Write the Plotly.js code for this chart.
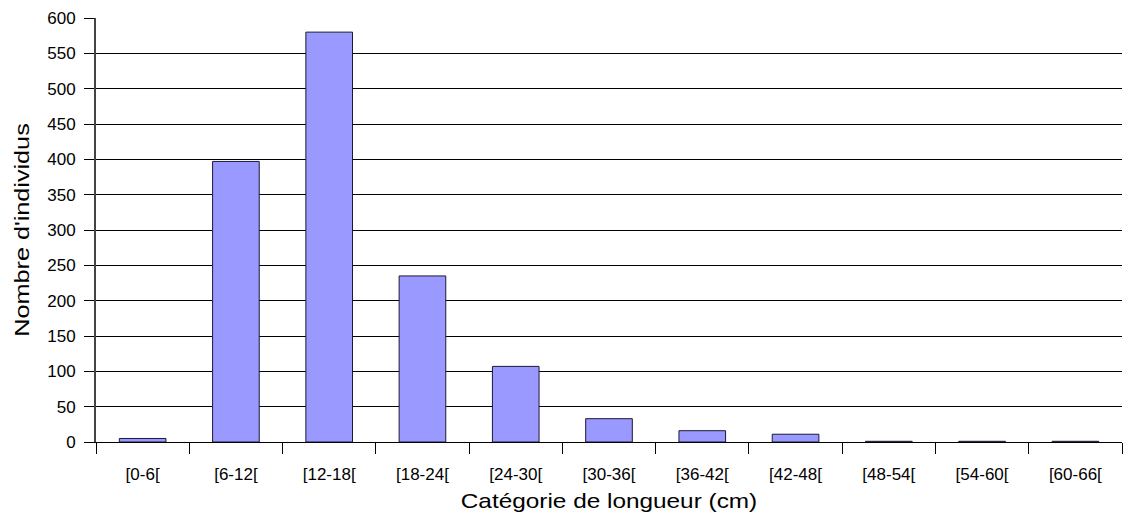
<!DOCTYPE html>
<html>
<head>
<meta charset="utf-8">
<script src="https://cdn.plot.ly/plotly-3.0.1.min.js"></script>
<style>html,body{margin:0;padding:0;background:#fff;}#chart{width:1123px;height:517px;}</style>
</head>
<body>
<div id="chart"></div>
<script>
const categories = ["[0-6[", "[6-12[", "[12-18[", "[18-24[", "[24-30[", "[30-36[", "[36-42[", "[42-48[", "[48-54[", "[54-60[", "[60-66["];
const counts = [5, 397, 580, 235, 107, 33, 16, 11, 1, 1, 1];
const yTickValues = [0, 50, 100, 150, 200, 250, 300, 350, 400, 450, 500, 550, 600];
const xTitle = "Catégorie de longueur (cm)";
const yTitle = "Nombre d'individus";

const font = "'Liberation Sans', Arial, sans-serif";

function stretchTitle(sel, factor) {
  const el = document.querySelector(sel);
  if (!el) return;
  const bb = el.getBBox();
  const cx = bb.x + bb.width / 2;
  const prev = el.getAttribute("transform") || "";
  el.setAttribute("transform", prev + " translate(" + cx + ",0) scale(" + factor + ",1) translate(" + (-cx) + ",0)");
}

Plotly.newPlot("chart", [{
  type: "bar",
  x: categories,
  y: counts,
  marker: {color: "#9999FF", line: {color: "#1a1a33", width: 1}},
  hoverinfo: "x+y"
}], {
  width: 1123, height: 517,
  margin: {l: 96, r: 1, t: 18, b: 75},
  paper_bgcolor: "#fff", plot_bgcolor: "#fff",
  bargap: 0.5,
  showlegend: false,
  font: {family: font, color: "#000", size: 17},
  xaxis: {
    type: "category",
    tickson: "boundaries",
    ticks: "outside", ticklen: 11, tickcolor: "#000", tickwidth: 1,
    ticklabelstandoff: 17,
    showline: true, linecolor: "#000", linewidth: 1,
    showgrid: false,
    tickfont: {family: font, size: 17, color: "#000"},
    title: {text: xTitle, font: {family: font, size: 21, color: "#000"}, standoff: 9},
    automargin: false
  },
  yaxis: {
    range: [0, 600],
    tickvals: yTickValues,
    ticktext: yTickValues.map(String),
    ticks: "outside", ticklen: 10, tickcolor: "#000", tickwidth: 1,
    ticklabelstandoff: 5,
    showline: true, linecolor: "#444", linewidth: 2,
    showgrid: true, gridcolor: "#000", gridwidth: 1,
    zeroline: false,
    tickfont: {family: font, size: 17, color: "#000"},
    title: {text: yTitle, font: {family: font, size: 21, color: "#000"}, standoff: 12},
    automargin: false
  }
}, {displayModeBar: false, staticPlot: true}).then(function () {
  stretchTitle(".g-xtitle text", 1.16);
  stretchTitle(".g-ytitle text", 1.2);
});
</script>
</body>
</html>
